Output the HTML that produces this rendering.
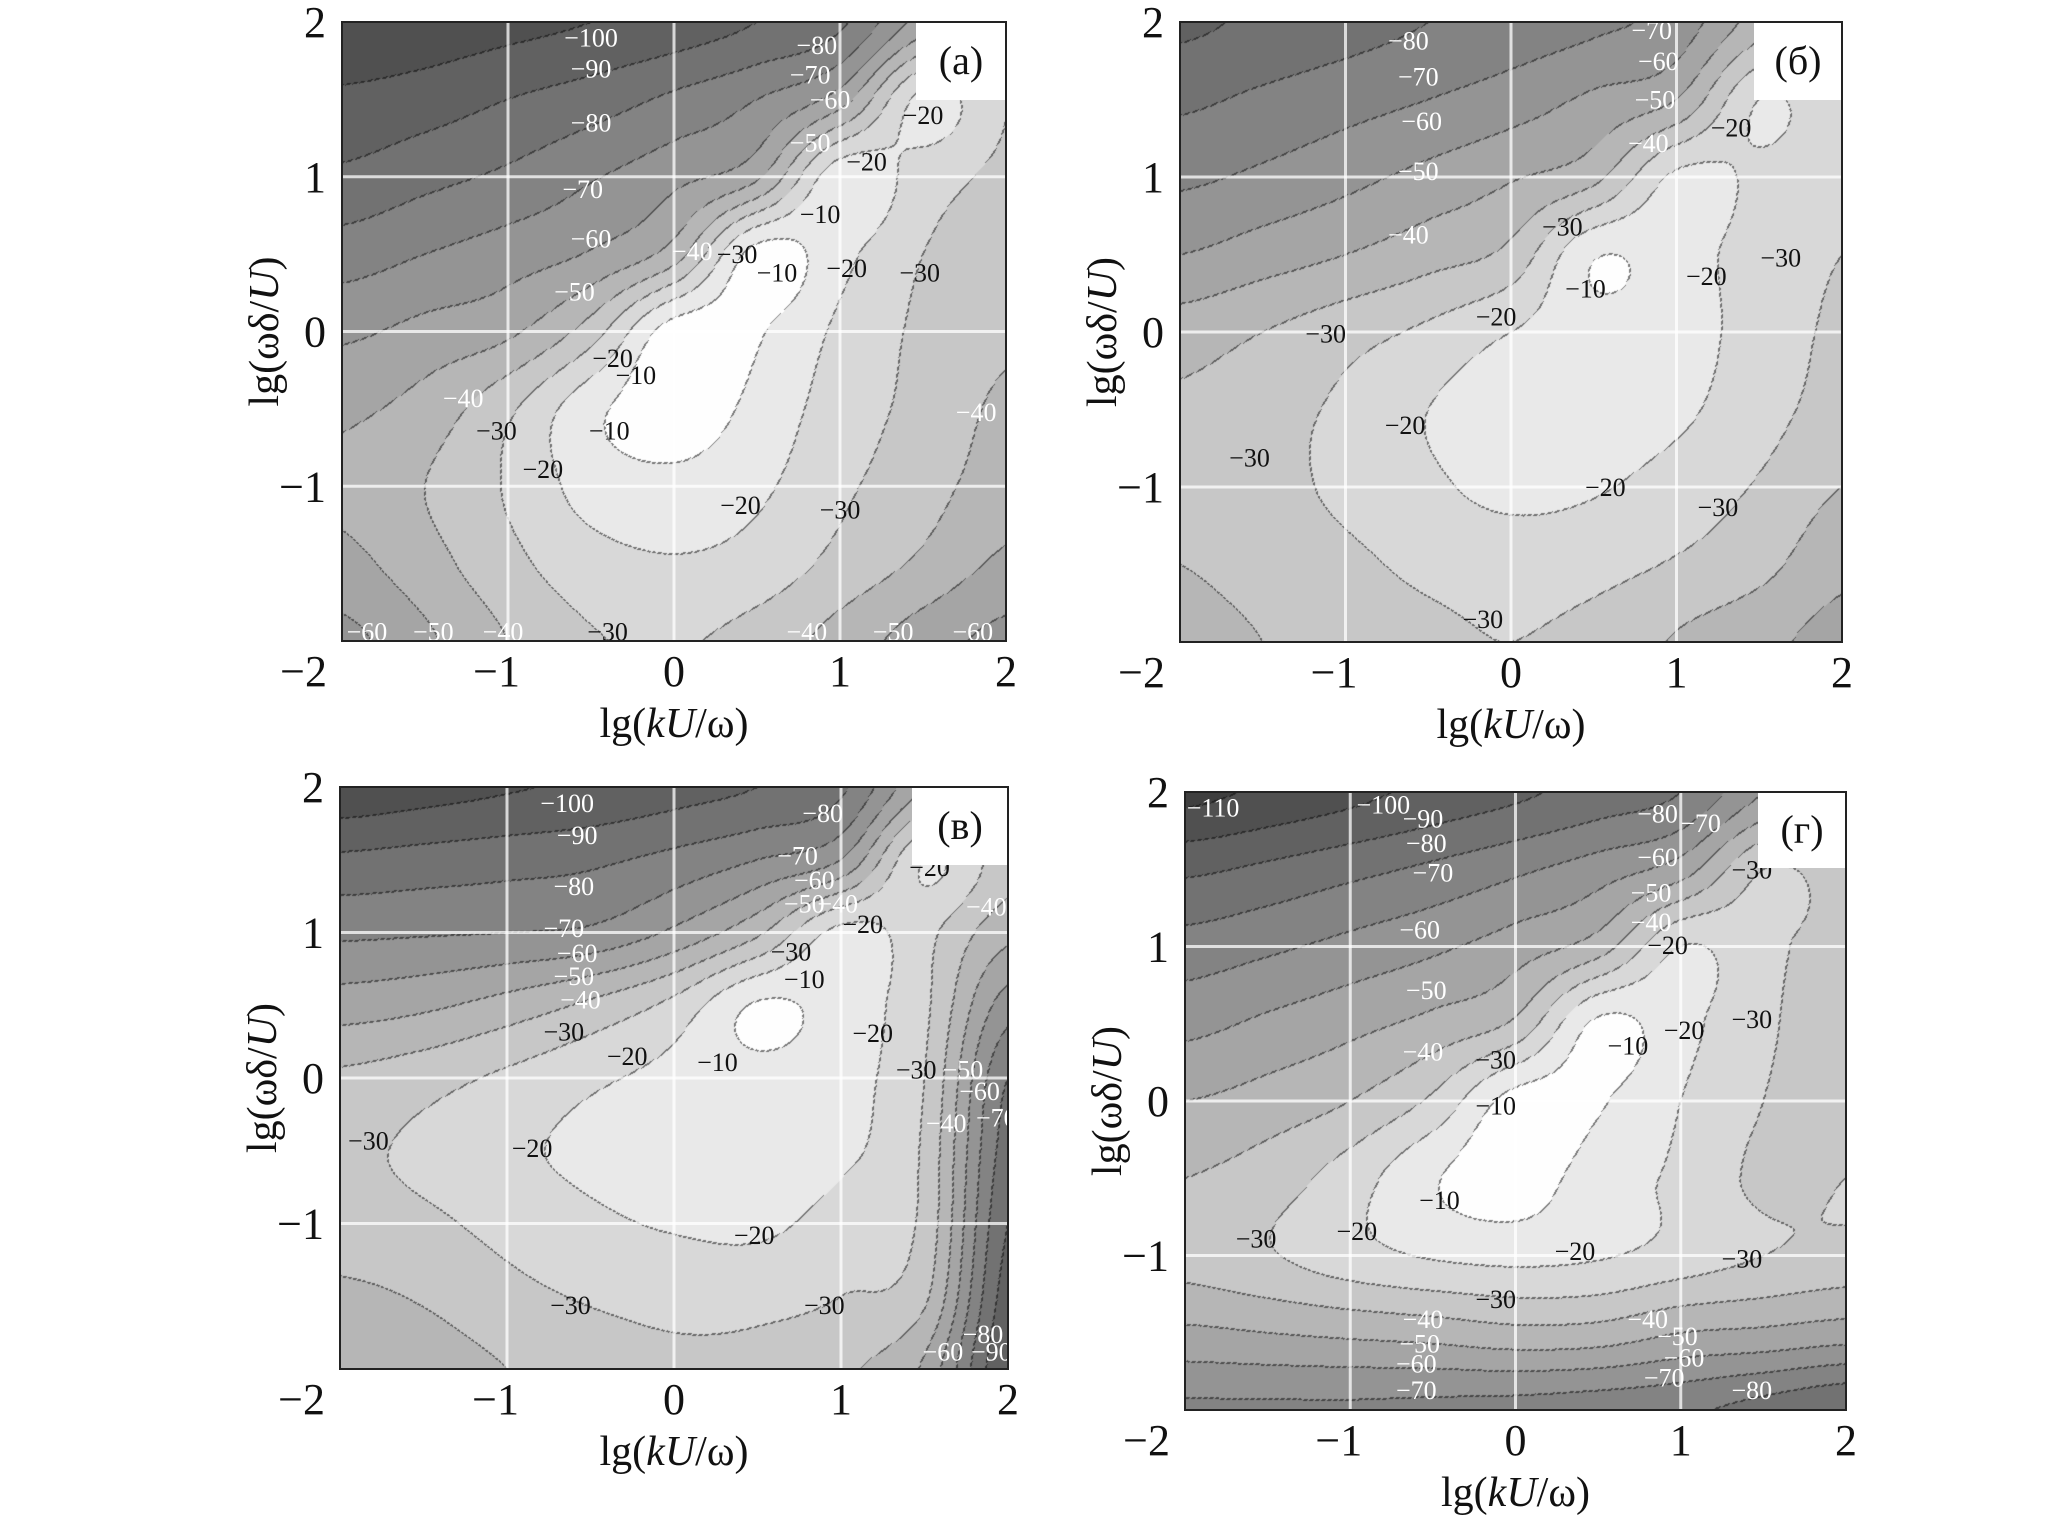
<!DOCTYPE html>
<html><head><meta charset="utf-8">
<style>
html,body{margin:0;padding:0;background:#fff;}
#root{position:relative;width:2057px;height:1527px;overflow:hidden;background:#fff;font-family:"Liberation Serif",serif;}
canvas{position:absolute;}
#ov{position:absolute;left:0;top:0;}
</style></head>
<body>
<div id="root">
<svg id="ov" width="2057" height="1527"></svg>
</div>
<script>
// ---- data: field grids (rows y=2..-2 step 0.5, cols x=-2..2 step 0.5), values in dB ----
const xTicks = [-2,-1,0,1,2];
const yTicks = [2,1,0,-1];
const gridA = [
 [-108,-106,-103,-100,-96,-90,-82,-55,-35],
 [-98,-95,-90,-85,-78,-70,-55,-17,-30],
 [-88,-83,-78,-71,-63,-52,-13,-25,-32],
 [-75,-70,-65,-59,-45,-6,-17,-30,-35],
 [-62,-57,-52,-35,-5,-9,-22,-32,-38],
 [-52,-46,-32,-13,-4,-13,-25,-33,-42],
 [-48,-40,-29,-16,-13,-18,-28,-36,-45],
 [-53,-44,-33,-24,-21,-24,-33,-42,-52],
 [-63,-52,-40,-31,-29,-34,-44,-55,-63]
];
const gridB = [
 [-92,-88,-84,-80,-76,-72,-66,-45,-32],
 [-82,-78,-74,-70,-65,-58,-50,-20,-28],
 [-72,-68,-63,-57,-51,-43,-18,-22,-28],
 [-60,-55,-50,-44,-37,-11,-16,-24,-30],
 [-45,-40,-34,-28,-20,-14,-16,-24,-32],
 [-38,-34,-28,-20,-14,-15,-18,-26,-34],
 [-36,-33,-28,-22,-17,-19,-24,-31,-40],
 [-40,-36,-32,-28,-26,-27,-31,-37,-47],
 [-44,-40,-35,-32,-30,-33,-41,-47,-54]
];
const gridV = [
 [-107,-104,-101,-98,-94,-90,-82,-50,-40],
 [-88,-86,-84,-82,-77,-70,-60,-20,-35],
 [-72,-71,-70,-68,-58,-42,-17,-27,-47],
 [-55,-52,-46,-38,-27,-9,-15,-28,-65],
 [-38,-34,-28,-22,-17,-13,-17,-30,-80],
 [-32,-28,-22,-18,-15,-15,-18,-32,-85],
 [-35,-32,-27,-22,-19,-18,-24,-33,-90],
 [-42,-39,-33,-29,-27,-27,-30,-38,-95],
 [-48,-45,-40,-35,-32,-33,-38,-52,-100]
];
const gridG = [
 [-113,-108,-103,-97,-92,-86,-80,-60,-45],
 [-92,-88,-83,-78,-72,-65,-55,-30,-35],
 [-76,-72,-67,-62,-55,-45,-20,-28,-33],
 [-63,-58,-53,-47,-38,-8,-17,-28,-37],
 [-50,-46,-40,-28,-6,-9,-20,-30,-36],
 [-40,-35,-25,-11,-5,-15,-22,-32,-30],
 [-36,-31,-24,-19,-17,-19,-24,-30,-33],
 [-52,-50,-48,-46,-43,-44,-50,-52,-55],
 [-72,-72,-72,-73,-74,-76,-78,-84,-90]
];
// contour labels: [value, x, y]
const labelsA = [[-100,-0.5,1.9],[-90,-0.5,1.7],[-80,-0.5,1.35],[-70,-0.55,0.92],[-60,-0.5,0.6],[-50,-0.6,0.26],
 [-40,-1.27,-0.43],[-30,-1.07,-0.64],[-20,-0.79,-0.89],[-10,-0.39,-0.64],[-20,-0.37,-0.17],[-10,-0.23,-0.28],
 [-40,0.11,0.52],[-30,0.38,0.5],[-10,0.62,0.38],[-10,0.88,0.76],[-20,1.16,1.1],[-20,1.5,1.4],[-20,1.04,0.41],
 [-30,1.48,0.38],[-50,0.82,1.22],[-60,0.94,1.5],[-70,0.82,1.66],[-80,0.86,1.85],[-20,0.4,-1.12],[-30,1.0,-1.15],
 [-40,1.82,-0.52],[-60,-1.85,-1.94],[-50,-1.45,-1.94],[-40,-1.03,-1.94],[-30,-0.4,-1.94],[-40,0.8,-1.94],[-50,1.32,-1.94],[-60,1.8,-1.94]];
const labelsB = [[-80,-0.62,1.88],[-70,-0.56,1.65],[-60,-0.54,1.36],[-50,-0.56,1.04],[-40,-0.62,0.63],[-30,-1.12,-0.01],
 [-30,-1.58,-0.81],[-20,-0.64,-0.6],[-20,-0.09,0.1],[-10,0.45,0.28],[-30,0.31,0.68],[-20,1.18,0.36],[-30,1.63,0.48],
 [-20,0.57,-1.0],[-30,1.25,-1.13],[-30,-0.17,-1.85],[-70,0.85,1.95],[-60,0.89,1.75],[-50,0.87,1.5],[-40,0.83,1.22],[-20,1.33,1.32]];
const labelsV = [[-100,-0.64,1.89],[-90,-0.58,1.67],[-80,-0.6,1.32],[-70,-0.66,1.03],[-60,-0.58,0.86],[-50,-0.6,0.7],
 [-40,-0.56,0.54],[-30,-0.66,0.32],[-20,-0.28,0.15],[-30,-1.83,-0.43],[-20,-0.85,-0.48],[-10,0.26,0.11],[-10,0.78,0.68],
 [-30,0.7,0.87],[-20,1.13,1.06],[-80,0.89,1.82],[-70,0.74,1.53],[-60,0.84,1.36],[-50,0.78,1.2],[-40,0.98,1.2],[-20,1.53,1.45],
 [-40,1.87,1.18],[-20,1.19,0.31],[-30,1.45,0.06],[-50,1.73,0.06],[-60,1.83,-0.09],[-40,1.63,-0.31],[-70,1.93,-0.27],
 [-20,0.48,-1.08],[-30,-0.62,-1.56],[-30,0.9,-1.56],[-80,1.85,-1.76],[-60,1.61,-1.88],[-90,1.9,-1.88]];
const labelsG = [[-110,-1.83,1.9],[-100,-0.8,1.92],[-90,-0.56,1.83],[-80,-0.54,1.67],[-70,-0.5,1.48],[-60,-0.58,1.11],
 [-50,-0.54,0.72],[-40,-0.56,0.32],[-30,-0.12,0.27],[-10,-0.12,-0.03],[-10,-0.46,-0.64],[-30,-1.57,-0.89],[-20,-0.96,-0.84],
 [-20,0.36,-0.97],[-30,-0.12,-1.28],[-40,-0.56,-1.41],[-50,-0.58,-1.57],[-60,-0.6,-1.7],[-70,-0.6,-1.87],[-40,0.8,-1.41],
 [-50,0.98,-1.52],[-60,1.02,-1.66],[-70,0.9,-1.79],[-80,1.43,-1.87],[-30,1.37,-1.02],[-30,1.43,0.53],[-20,1.02,0.46],
 [-10,0.68,0.36],[-20,0.92,1.01],[-40,0.82,1.16],[-50,0.82,1.35],[-60,0.86,1.58],[-80,0.86,1.86],[-70,1.12,1.8],[-30,1.43,1.5]];

// ---- layout ----
const panels = [
 {key:'a', tag:'(а)', grid:gridA, labels:labelsA, box:[342,22,1006,641], tagBox:[916,22,1006,100]},
 {key:'b', tag:'(б)', grid:gridB, labels:labelsB, box:[1180,22,1842,642], tagBox:[1754,22,1842,100]},
 {key:'v', tag:'(в)', grid:gridV, labels:labelsV, box:[340,787,1008,1369], tagBox:[912,787,1008,865]},
 {key:'g', tag:'(г)', grid:gridG, labels:labelsG, box:[1185,792,1846,1410], tagBox:[1758,792,1846,868]}
];
const NS='http://www.w3.org/2000/svg';
const svg=document.getElementById('ov');
const root=document.getElementById('root');

function cr(p0,p1,p2,p3,t){return 0.5*((2*p1)+(-p0+p2)*t+(2*p0-5*p1+4*p2-p3)*t*t+(-p0+3*p1-3*p2+p3)*t*t*t);}
function sample(g,u,v){
  const n=g.length-1;
  let i=Math.min(Math.floor(u),n-1), j=Math.min(Math.floor(v),n-1);
  const tu=u-i, tv=v-j;
  const cl=k=>Math.max(0,Math.min(n,k));
  const rows=[];
  for(let dj=-1;dj<=2;dj++){
    const r=g[cl(j+dj)];
    rows.push(cr(r[cl(i-1)],r[cl(i)],r[cl(i+1)],r[cl(i+2)],tu));
  }
  return cr(rows[0],rows[1],rows[2],rows[3],tv);
}
function grayOf(b){return b>=0?254:Math.max(40,Math.round(250+1.7*b*10));}

function el(tag,attrs,parent){const e=document.createElementNS(NS,tag);for(const k in attrs)e.setAttribute(k,attrs[k]);(parent||svg).appendChild(e);return e;}

panels.forEach(p=>{
  const [x0,y0,x1,y1]=p.box, W=x1-x0, H=y1-y0;
  const xs=v=>x0+(v+2)/4*W, ys=v=>y0+(2-v)/4*H;
  const c=document.createElement('canvas');
  
  
  c.width=W;c.height=H;c.style.left=x0+'px';c.style.top=y0+'px';
  root.insertBefore(c,svg);
  const ctx=c.getContext('2d');const img=ctx.createImageData(W,H);
  const band=new Int16Array(W*H);
  for(let py=0;py<H;py++)for(let px=0;px<W;px++){
    const val=sample(p.grid,(px+0.5)/W*8,(py+0.5)/H*8);
    band[py*W+px]=Math.ceil(val/10);
  }
  for(let py=0;py<H;py++)for(let px=0;px<W;px++){
    const k=py*W+px;let g=grayOf(band[k]);
    const b=band[k];
    if((px<W-1&&band[k+1]!==b)||(py<H-1&&band[k+W]!==b)||(px>0&&band[k-1]!==b)||(py>0&&band[k-W]!==b)){
      if(((px+py)>>1)%3!==2) g=Math.round(g*0.5);
    }
    img.data[4*k]=g;img.data[4*k+1]=g;img.data[4*k+2]=g;img.data[4*k+3]=255;
  }
  ctx.putImageData(img,0,0);

  const grp=el('g',{});
  
  
  const cp=el('clipPath',{id:'clip-'+p.key},grp);
  el('rect',{x:x0,y:y0,width:W,height:H},cp);
  [-1,0,1].forEach(t=>{
    const gx=el('line',{x1:xs(t),x2:xs(t),y1:y0,y2:y1,stroke:'rgba(255,255,255,0.75)','stroke-width':3},grp);
    
    
    const gy=el('line',{x1:x0,x2:x1,y1:ys(t),y2:ys(t),stroke:'rgba(255,255,255,0.75)','stroke-width':3},grp);
    
    
  });
  const lg=el('g',{'clip-path':'url(#clip-'+p.key+')'},grp);
  p.labels.forEach(L=>{
    const t=el('text',{x:xs(L[1]),y:ys(L[2])+9,'text-anchor':'middle','font-size':26,'font-family':'"Liberation Serif",serif',fill:(L[0]<=-40?'#fff':'#111')},lg);
    
    
    t.textContent='\u2212'+Math.abs(L[0]);
  });
  const [tx0,ty0,tx1,ty1]=p.tagBox;
  const tb=el('rect',{x:tx0,y:ty0,width:tx1-tx0,height:ty1-ty0,fill:'#fff'},grp);
  
  
  const tt=el('text',{x:(tx0+tx1)/2,y:(ty0+ty1)/2+13,'text-anchor':'middle','font-size':40,'font-family':'"Liberation Serif",serif',fill:'#111'},grp);
  
  
  tt.textContent=p.tag;
  const fr=el('rect',{x:x0,y:y0,width:W,height:H,fill:'none',stroke:'#222','stroke-width':2},grp);
  
  
  xTicks.forEach(t=>{
    let ax=xs(t), anchor='middle';
    if(t<0){anchor='end';ax=xs(t)+12; if(t===-2)ax=xs(t)-15;}
    const e=el('text',{x:ax,y:y1+45,'text-anchor':anchor,'font-size':44,'font-family':'"Liberation Serif",serif',fill:'#111'},grp);
    
    
    e.textContent=(t<0?'\u2212':'')+Math.abs(t);
  });
  yTicks.forEach(t=>{
    const e=el('text',{x:x0-16,y:ys(t)+15,'text-anchor':'end','font-size':44,'font-family':'"Liberation Serif",serif',fill:'#111'},grp);
    
    
    e.textContent=(t<0?'\u2212':'')+Math.abs(t);
  });
  const xt=el('text',{x:(x0+x1)/2,y:y1+96,'text-anchor':'middle','font-size':42,'font-family':'"Liberation Serif",serif',fill:'#111'},grp);
  
  
  xt.innerHTML='lg(<tspan font-style="italic">kU</tspan>/ω)';
  const cy=(y0+y1)/2, cx=x0-64;
  const yt=el('text',{x:cx,y:cy,'text-anchor':'middle','font-size':42,'font-family':'"Liberation Serif",serif',fill:'#111',transform:'rotate(-90 '+cx+' '+cy+')'},grp);
  
  
  yt.innerHTML='lg(ωδ/<tspan font-style="italic">U</tspan>)';
});
</script>
</body></html>
